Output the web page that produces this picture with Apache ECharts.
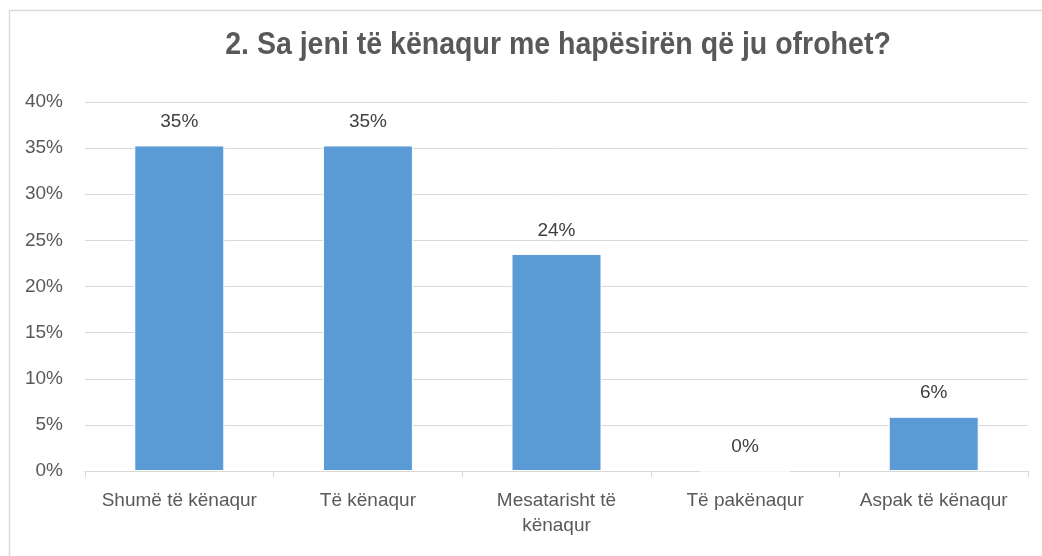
<!DOCTYPE html>
<html>
<head>
<meta charset="utf-8">
<script src="https://cdn.jsdelivr.net/npm/echarts@6/dist/echarts.min.js"></script>
<style>html,body{margin:0;padding:0;background:#fff}#c{width:1042px;height:556px}</style>
</head>
<body>
<div id="c"></div>
<script>
const title = '2. Sa jeni të kënaqur me hapësirën që ju ofrohet?';
const categories = ['Shumë të kënaqur', 'Të kënaqur', 'Mesatarisht të\nkënaqur', 'Të pakënaqur', 'Aspak të kënaqur'];
const values = [35.29, 35.29, 23.53, 0, 5.88];
const yTicks = [0, 5, 10, 15, 20, 25, 30, 35, 40];

const FONT = '"Liberation Sans", Arial, sans-serif';
const chart = echarts.init(document.getElementById('c'), null, {renderer: 'canvas'});
chart.setOption({
  animation: false,
  backgroundColor: '#fff',
  graphic: [{
    type: 'rect', left: 7, top: 8, silent: true,
    shape: {width: 1045, height: 555},
    style: {fill: 'none', stroke: '#d9d9d9', lineWidth: 1.5}
  }, {
    type: 'text', x: 558, y: 45, scaleX: 0.92, scaleY: 1, silent: true,
    style: {text: title, fontFamily: FONT, fontSize: 31, fontWeight: 'bold', fill: '#595959',
      align: 'center', verticalAlign: 'middle'}
  }],
  grid: {left: 85, right: 14, top: 102, bottom: 85, containLabel: false},
  xAxis: {
    type: 'category', data: categories,
    axisLine: {lineStyle: {color: '#d9d9d9', width: 1}},
    axisTick: {show: true, length: 6, lineStyle: {color: '#d9d9d9'}},
    axisLabel: {fontFamily: FONT, fontSize: 19, color: '#595959', margin: 17, lineHeight: 25, interval: 0}
  },
  yAxis: {
    type: 'value', min: yTicks[0], max: yTicks[yTicks.length - 1], interval: 5,
    axisLine: {show: false}, axisTick: {show: false},
    splitLine: {lineStyle: {color: '#d9d9d9', width: 1}},
    axisLabel: {fontFamily: FONT, fontSize: 19, color: '#595959', margin: 22, formatter: v => v + '%'}
  },
  series: [{
    type: 'bar', data: values, barWidth: 90,
    itemStyle: {color: '#5b9bd5', borderColor: '#fff', borderWidth: 1},
    label: {show: true, position: 'top', distance: 14, fontFamily: FONT, fontSize: 19, color: '#404040',
      formatter: p => Math.round(p.value) + '%'}
  }]
});
</script>
</body>
</html>
